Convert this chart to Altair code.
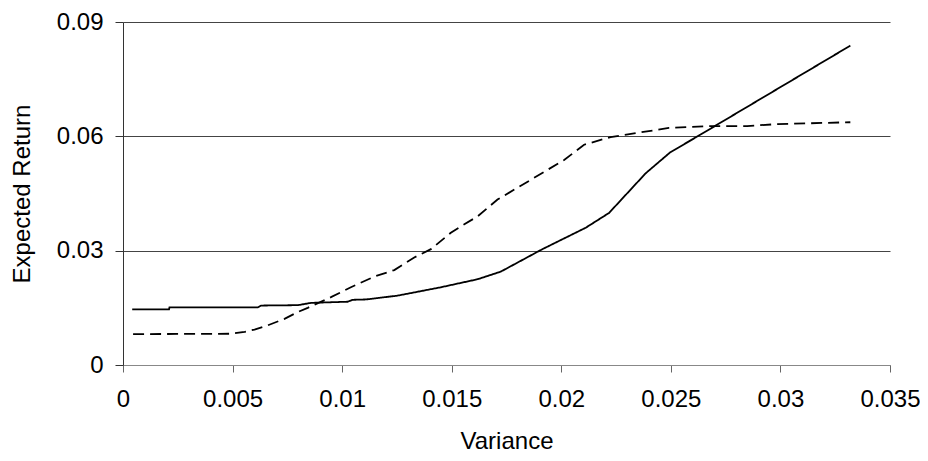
import altair as alt
import pandas as pd

# Solid series (variance, expected return)
solid_x = [0.00042, 0.0021, 0.00212, 0.00615, 0.0063, 0.00798, 0.00858, 0.01025, 0.01048,
           0.01109, 0.01253, 0.01451, 0.01618, 0.01724, 0.01914, 0.02111, 0.02218, 0.02385,
           0.02497, 0.02613, 0.03319]
solid_y = [0.0146, 0.0146, 0.0151, 0.0151, 0.0156, 0.0157, 0.0163, 0.0166, 0.0171,
           0.0172, 0.0182, 0.0204, 0.0225, 0.0245, 0.0304, 0.0360, 0.0399, 0.0503,
           0.0558, 0.0597, 0.0838]

# Dashed series
dash_x = [0.00046, 0.00494, 0.00555, 0.0060, 0.0066, 0.00737, 0.00798, 0.00843, 0.00949,
          0.0104, 0.01147, 0.01238, 0.01329, 0.01405, 0.01496, 0.01542, 0.01618, 0.01709,
          0.01861, 0.02013, 0.02104, 0.02225, 0.02491, 0.02689, 0.02848, 0.02985, 0.03319]
dash_y = [0.0081, 0.0082, 0.0087, 0.0093, 0.0104, 0.0121, 0.0139, 0.0150, 0.0178,
          0.0204, 0.0232, 0.0249, 0.0282, 0.0304, 0.0347, 0.0364, 0.0390, 0.0434,
          0.0486, 0.0538, 0.0578, 0.0598, 0.0622, 0.0627, 0.0627, 0.0632, 0.0637]

x_ticks = [0, 0.005, 0.01, 0.015, 0.02, 0.025, 0.03, 0.035]
y_ticks = [0, 0.03, 0.06, 0.09]

df = pd.concat([
    pd.DataFrame({"Variance": solid_x, "Expected Return": solid_y, "series": "A",
                  "idx": range(len(solid_x))}),
    pd.DataFrame({"Variance": dash_x, "Expected Return": dash_y, "series": "B",
                  "idx": range(len(dash_x))}),
])

FONT = "Liberation Sans"
FS = 24

x = alt.X("Variance:Q",
          scale=alt.Scale(domain=[0, 0.035], nice=False, zero=True),
          axis=alt.Axis(title="Variance", values=x_ticks, format="~g", grid=False,
                        labelFlush=False,
                        domainColor="#888888", tickColor="#666666", tickSize=7,
                        labelFontSize=FS, titleFontSize=FS, labelPadding=15,
                        titlePadding=18, labelFont=FONT, titleFont=FONT,
                        labelColor="black", titleColor="black", titleFontWeight="normal"))
y = alt.Y("Expected Return:Q",
          scale=alt.Scale(domain=[0, 0.09], nice=False),
          axis=alt.Axis(title="Expected Return", values=y_ticks, format="~g", grid=True,
                        labelFlush=False,
                        gridColor="#444444", gridWidth=1, gridOpacity=1,
                        domainColor="#333333", tickColor="#333333", tickSize=8,
                        labelFontSize=FS, titleFontSize=FS, labelPadding=12,
                        titlePadding=22, labelFont=FONT, titleFont=FONT,
                        labelColor="black", titleColor="black", titleFontWeight="normal"))

chart = alt.Chart(df).mark_line(color="black", strokeWidth=1.8).encode(
    x=x, y=y,
    order="idx:Q",
    detail="series:N",
    strokeDash=alt.StrokeDash("series:N",
                              scale=alt.Scale(domain=["A", "B"], range=[[1, 0], [11, 6]]),
                              legend=None),
).properties(
    width=767, height=343,
    autosize=alt.AutoSizeParams(type="none"),
    padding={"left": 115, "top": 14, "right": 30, "bottom": 88},
).configure_view(stroke=None)

chart.save("out.html", embed_options={"renderer": "svg", "actions": False})
